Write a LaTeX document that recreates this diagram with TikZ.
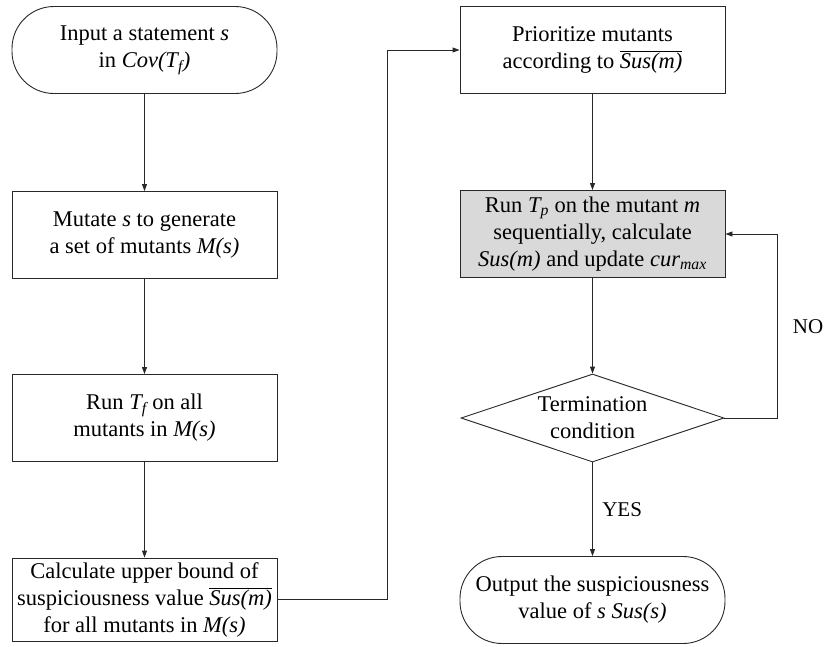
\documentclass[tikz,border=0pt]{standalone}
\usepackage{fontspec}
\setmainfont{LiberationSerif}[Extension=.ttf, UprightFont=*-Regular, ItalicFont=*-Italic, BoldFont=*-Bold, BoldItalicFont=*-BoldItalic]
\usetikzlibrary{arrows.meta,shapes.geometric}
\definecolor{boxgray}{RGB}{217,217,217}
\definecolor{linegray}{RGB}{40,40,40}
\begin{document}
\begin{tikzpicture}[x=1pt,y=-1pt,
  every node/.style={font=\rmfamily\fontsize{22.5}{27}\selectfont, align=center, text=black},
  procbox/.style={draw=linegray, line width=0.9pt, minimum width=265pt, minimum height=87pt, inner sep=0pt},
  termbox/.style={procbox, rounded corners=42pt},
  decbox/.style={draw=linegray, line width=0.9pt, diamond, aspect=3, minimum width=263pt, minimum height=88pt, inner sep=0pt},
  flow/.style={draw=linegray, line width=0.9pt, -{Triangle[length=7pt,width=5pt]}},
  tag/.style={font=\rmfamily\fontsize{21}{25}\selectfont}]
\useasboundingbox (0,0) rectangle (827,646);
% left column
\node[termbox] (start) at (144.5,50) {Input a statement \textit{s}\\in \textit{Cov(T\textsubscript{f})}};
\node[procbox] (mutate) at (144.5,235) {Mutate \textit{s} to generate\\a set of mutants \textit{M(s)}};
\node[procbox] (run) at (144.5,418) {Run \textit{T\textsubscript{f}} on all\\mutants in \textit{M(s)}};
\node[procbox, minimum height=83pt] (bound) at (144.5,599.5) {Calculate upper bound of\\suspiciousness value $\overline{\mbox{\itshape Sus(m)}}$\\for all mutants in \textit{M(s)}};
% right column
\node[procbox] (prio) at (592.5,50) {Prioritize mutants\\according to $\overline{\mbox{\itshape Sus(m)}}$};
\node[procbox, fill=boxgray] (exec) at (592.5,234) {Run \textit{T\textsubscript{p}} on the mutant \textit{m}\\sequentially, calculate\\\textit{Sus(m)} and update \textit{cur\textsubscript{max}}};
\node[decbox] (cond) at (592.5,418) {Termination\\condition};
\node[termbox] (out) at (592.5,600) {Output the suspiciousness\\value of \textit{s} \textit{Sus(s)}};
% connectors
\draw[flow] (start) -- (mutate);
\draw[flow] (mutate) -- (run);
\draw[flow] (run) -- (bound);
\draw[flow] (bound.east) -- ++(110,0) |- (prio.west);
\draw[flow] (prio) -- (exec);
\draw[flow] (exec) -- (cond);
\draw[flow] (cond) -- node[tag, right, pos=0.5, xshift=6pt] (yes) {YES} (out);
\draw[flow] (cond.east) -- ++(53,0) |- (exec.east);
\node[tag] (no) at (808,327) {NO};
\end{tikzpicture}
\end{document}
